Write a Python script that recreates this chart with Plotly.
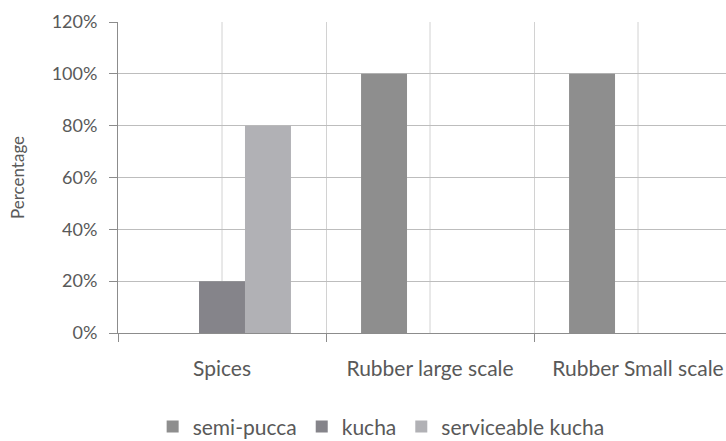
import plotly.graph_objects as go

# Housing type share by crop sector
categories = ["Spices", "Rubber large scale", "Rubber Small scale"]
series_names = ["semi-pucca", "kucha", "serviceable kucha"]
semi_pucca = [0, 100, 100]
kucha = [20, 0, 0]
serviceable_kucha = [80, 0, 0]
y_ticks = [0, 20, 40, 60, 80, 100, 120]

colors = ["#8e8e8e", "#85848a", "#b1b1b5"]
text_color = "#595959"
font_family = "Lato, Open Sans, sans-serif"

fig = go.Figure()
for name, vals, col in zip(series_names, [semi_pucca, kucha, serviceable_kucha], colors):
    fig.add_trace(go.Bar(
        x=categories, y=vals, name=name,
        marker=dict(color=col, line=dict(width=0)),
    ))

# extra vertical gridlines through the category centres
for c in categories:
    fig.add_shape(type="line", xref="x", yref="paper", x0=c, x1=c, y0=0, y1=1,
                  line=dict(color="#d2d2d2", width=1), layer="below")

fig.update_layout(
    width=726, height=441,
    margin=dict(l=118, r=0, t=22, b=108, autoexpand=False),
    paper_bgcolor="white", plot_bgcolor="white",
    barmode="group", bargap=0.337, bargroupgap=0,
    font=dict(family=font_family, size=18, color=text_color),
    showlegend=True,
    legend=dict(orientation="h", xref="container", yref="container",
                x=0.525, xanchor="center", y=0.032, yanchor="middle",
                font=dict(size=21, color=text_color), itemwidth=30,
                traceorder="normal"),
    xaxis=dict(
        type="category", range=[-0.5, 2.423], automargin=False,
        tickson="boundaries", ticks="outside", ticklen=8, tickcolor="#8c8c8c",
        showgrid=True, gridcolor="#d2d2d2", gridwidth=1,
        showline=True, linecolor="#8c8c8c", linewidth=1,
        tickfont=dict(size=21, color=text_color),
        ticklabelstandoff=17,
    ),
    yaxis=dict(
        range=[0, 120], tickvals=y_ticks, ticktext=[f"{v}%" for v in y_ticks],
        automargin=False,
        ticks="outside", ticklen=8, tickcolor="#8c8c8c",
        showgrid=True, gridcolor="#bdbdbd", gridwidth=1,
        showline=True, linecolor="#8c8c8c", linewidth=1,
        zeroline=False,
        tickfont=dict(size=18, color=text_color),
        ticklabelstandoff=8,
        title=dict(text="Percentage", font=dict(size=17, color=text_color), standoff=22),
    ),
)

fig.write_html("out.html")
